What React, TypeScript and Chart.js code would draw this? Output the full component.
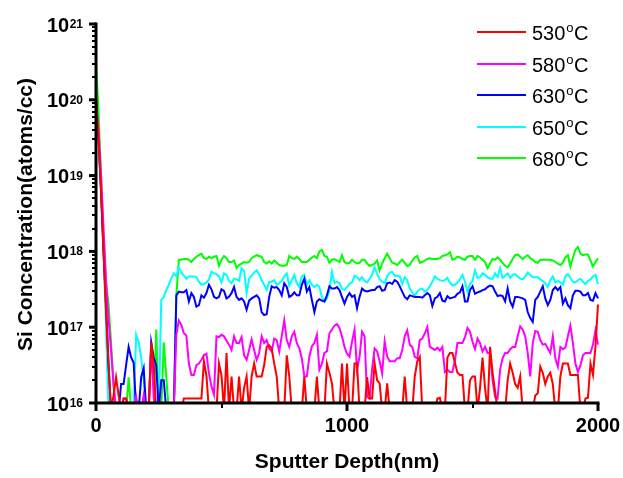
import React, { useEffect, useRef } from "react";
import { Chart, registerables } from "chart.js";

Chart.register(...registerables);

// Sputter depth (nm) of each SIMS sample point
const depthNm = [
  0, 10, 20, 30, 40, 50, 60, 70, 80, 90,
  100, 110, 120, 130, 140, 150, 160, 170, 180, 190,
  200, 210, 220, 230, 240, 250, 260, 270, 280, 290,
  300, 310, 320, 330, 340, 350, 360, 370, 380, 390,
  400, 410, 420, 430, 440, 450, 460, 470, 480, 490,
  500, 510, 520, 530, 540, 550, 560, 570, 580, 590,
  600, 610, 620, 630, 640, 650, 660, 670, 680, 690,
  700, 710, 720, 730, 740, 750, 760, 770, 780, 790,
  800, 810, 820, 830, 840, 850, 860, 870, 880, 890,
  900, 910, 920, 930, 940, 950, 960, 970, 980, 990,
  1000, 1010, 1020, 1030, 1040, 1050, 1060, 1070, 1080, 1090,
  1100, 1110, 1120, 1130, 1140, 1150, 1160, 1170, 1180, 1190,
  1200, 1210, 1220, 1230, 1240, 1250, 1260, 1270, 1280, 1290,
  1300, 1310, 1320, 1330, 1340, 1350, 1360, 1370, 1380, 1390,
  1400, 1410, 1420, 1430, 1440, 1450, 1460, 1470, 1480, 1490,
  1500, 1510, 1520, 1530, 1540, 1550, 1560, 1570, 1580, 1590,
  1600, 1610, 1620, 1630, 1640, 1650, 1660, 1670, 1680, 1690,
  1700, 1710, 1720, 1730, 1740, 1750, 1760, 1770, 1780, 1790,
  1800, 1810, 1820, 1830, 1840, 1850, 1860, 1870, 1880, 1890,
  1900, 1910, 1920, 1930, 1940, 1950, 1960, 1970, 1980, 1990,
  2000,
];

// Si concentration, stored as log10(atoms/cc)
const log10Si530 = [
  20.0, 19.5, 18.8, 18.0, 17.2, 16.5, 15.9, 16.1, 16.34, 16.1,
  15.9, 16.06, 16.06, 15.9, 15.9, 15.9, 15.9, 15.9, 15.9, 15.9,
  15.9, 15.9, 16.8, 16.5, 15.9, 15.9, 15.9, 15.9, 15.9, 15.9,
  15.9, 15.9, 15.9, 15.9, 15.9, 16.06, 16.06, 16.06, 16.06, 16.06,
  16.06, 16.06, 16.06, 16.55, 16.36, 15.9, 15.9, 15.9, 15.9, 16.52,
  16.36, 15.9, 16.66, 15.9, 16.35, 15.9, 15.9, 16.35, 15.9, 16.2,
  16.35, 15.9, 16.35, 16.52, 16.35, 16.35, 16.35, 16.5, 16.74, 16.76,
  16.72, 16.52, 16.35, 15.9, 15.9, 15.9, 16.63, 16.35, 15.9, 15.9,
  15.9, 15.9, 15.9, 16.35, 15.9, 15.9, 15.9, 15.9, 16.35, 15.9,
  15.9, 15.9, 16.52, 16.4, 16.26, 15.9, 15.9, 15.9, 16.52, 15.9,
  16.52, 15.9, 15.9, 16.52, 16.52, 15.9, 15.9, 15.9, 16.34, 16.06,
  16.06, 16.52, 16.3, 16.26, 15.9, 15.9, 16.26, 15.9, 15.9, 15.9,
  15.9, 15.9, 15.9, 16.35, 15.9, 15.9, 15.9, 16.35, 16.55, 16.61,
  15.9, 15.9, 15.9, 15.9, 15.9, 15.9, 16.06, 16.07, 15.9, 15.9,
  16.6, 16.66, 16.66, 16.53, 16.4, 16.37, 16.37, 15.9, 15.9, 16.3,
  16.35, 16.35, 15.9, 16.2, 16.6, 16.2, 15.9, 16.74, 16.4, 16.15,
  15.9, 15.9, 15.9, 15.9, 16.3, 16.52, 16.4, 16.25, 16.2, 16.35,
  15.9, 15.9, 15.9, 15.9, 15.9, 16.1, 16.13, 16.48, 16.4, 16.25,
  16.35, 16.4, 16.25, 15.9, 15.9, 16.35, 16.52, 16.52, 16.52, 16.37,
  16.37, 16.37, 16.37, 15.9, 15.9, 16.06, 16.07, 16.52, 16.37, 16.75,
  17.3,
];

const log10Si580 = [
  20.0, 19.6, 19.0, 18.3, 17.6, 17.1, 16.7, 16.25, 15.9, 15.9,
  15.9, 16.06, 16.06, 15.9, 15.9, 15.9, 16.08, 15.9, 15.9, 16.1,
  15.9, 15.9, 16.75, 16.06, 15.9, 15.9, 15.9, 15.9, 15.9, 15.9,
  15.9, 15.9, 16.9, 17.09, 17.03, 16.92, 16.89, 16.52, 16.37, 16.37,
  16.5, 16.52, 16.57, 16.63, 16.65, 16.39, 16.22, 16.11, 16.88, 16.87,
  16.9, 16.88, 16.82, 16.77, 16.7, 16.88, 16.79, 16.79, 16.87, 16.63,
  16.57, 16.7, 16.84, 16.7, 16.57, 16.66, 16.88, 16.79, 16.83, 16.72,
  16.68, 16.85, 16.83, 16.68, 16.88, 17.09, 16.83, 16.74, 16.88, 16.94,
  16.79, 16.72, 16.59, 16.35, 16.35, 16.61, 16.75, 16.79, 16.9, 16.44,
  16.52, 16.66, 16.68, 16.92, 16.97, 17.02, 17.04, 16.99, 16.88, 16.74,
  16.65, 16.61, 16.81, 16.97, 16.44, 16.61, 16.94, 16.88, 16.08, 16.06,
  16.45, 16.72, 16.68, 16.55, 16.39, 16.81, 16.61, 16.55, 16.55, 16.55,
  16.59, 16.59, 16.7, 16.88, 16.96, 16.77, 16.74, 16.61, 16.59, 16.83,
  16.85, 16.92, 17.0, 16.74, 16.72, 16.7, 16.73, 16.69, 16.74, 16.41,
  16.44, 16.41, 16.41, 16.56, 16.79, 16.79, 16.79, 16.87, 16.99, 16.94,
  16.81, 16.71, 16.85, 16.79, 16.68, 16.74, 16.66, 16.66, 16.3, 16.08,
  16.06, 16.44, 16.59, 16.66, 16.66, 16.71, 16.74, 16.74, 16.88, 17.01,
  16.97, 16.88, 16.66, 16.35, 16.79, 16.95, 16.94, 16.83, 16.77, 16.78,
  16.72, 16.66, 16.88, 16.59, 16.48, 16.74, 16.71, 16.73, 16.88, 17.02,
  16.79, 16.52, 16.41, 16.5, 16.63, 16.66, 16.66, 16.66, 16.77, 16.96,
  16.77,
];

const log10Si630 = [
  20.0, 19.5, 18.8, 18.0, 17.3, 16.5, 15.9, 15.9, 15.9, 15.9,
  16.25, 16.25, 16.5, 16.74, 16.6, 16.53, 15.9, 15.9, 16.34, 16.46,
  15.9, 15.9, 16.8, 16.6, 16.5, 15.9, 16.3, 16.3, 15.9, 15.9,
  15.9, 15.9, 17.42, 17.47, 17.46, 17.46, 17.49, 17.34, 17.45, 17.4,
  17.27, 17.29, 17.42, 17.39, 17.45, 17.56, 17.5, 17.4, 17.38, 17.4,
  17.5, 17.48, 17.38, 17.4, 17.45, 17.53, 17.4, 17.36, 17.38, 17.34,
  17.23, 17.35, 17.38, 17.4, 17.42, 17.38, 17.2, 17.16, 17.17, 17.4,
  17.54, 17.52, 17.53, 17.49, 17.42, 17.58, 17.53, 17.4, 17.42, 17.46,
  17.42, 17.42, 17.56, 17.64, 17.47, 17.53, 17.36, 17.2, 17.34, 17.37,
  17.35, 17.34, 17.42, 17.54, 17.51, 17.51, 17.53, 17.49, 17.4, 17.31,
  17.4, 17.45, 17.4, 17.42, 17.25, 17.4, 17.51, 17.48, 17.47, 17.48,
  17.49, 17.49, 17.53, 17.54, 17.48, 17.49, 17.58, 17.59, 17.57, 17.62,
  17.6, 17.54, 17.47, 17.4, 17.37, 17.42, 17.41, 17.4, 17.4, 17.4,
  17.39, 17.42, 17.45, 17.42, 17.28, 17.38, 17.4, 17.45, 17.35, 17.34,
  17.41, 17.38, 17.39, 17.4, 17.44, 17.46, 17.54, 17.34, 17.34, 17.49,
  17.54, 17.44, 17.46, 17.47, 17.49, 17.5, 17.53, 17.55, 17.54, 17.47,
  17.41, 17.42, 17.41, 17.34, 17.51, 17.34, 17.27, 17.4, 17.4, 17.39,
  17.38, 17.36, 17.2, 17.12, 17.07, 17.36, 17.4, 17.47, 17.54, 17.38,
  17.29, 17.36, 17.49, 17.53, 17.49, 17.53, 17.31, 17.38, 17.29, 17.25,
  17.42, 17.48, 17.48, 17.47, 17.42, 17.42, 17.45, 17.36, 17.35, 17.45,
  17.38,
];

const log10Si650 = [
  20.0, 19.5, 18.8, 18.0, 17.0, 15.9, 15.9, 15.9, 15.9, 15.9,
  15.9, 15.9, 15.9, 15.9, 15.9, 15.9, 16.9, 16.8, 16.6, 16.3,
  15.9, 15.9, 15.9, 15.9, 15.9, 15.9, 17.36, 17.4, 17.49, 17.56,
  17.64, 17.71, 17.67, 17.79, 17.72, 17.68, 17.64, 17.67, 17.67, 17.67,
  17.66, 17.6, 17.56, 17.57, 17.59, 17.63, 17.73, 17.71, 17.7, 17.67,
  17.59, 17.71, 17.69, 17.61, 17.58, 17.64, 17.63, 17.61, 17.78, 17.74,
  17.45, 17.64, 17.68, 17.72, 17.75, 17.7, 17.62, 17.56, 17.49, 17.6,
  17.6, 17.62, 17.56, 17.58, 17.61, 17.67, 17.71, 17.55, 17.62, 17.69,
  17.58, 17.53, 17.67, 17.69, 17.56, 17.62, 17.56, 17.53, 17.56, 17.53,
  17.4, 17.34, 17.38, 17.49, 17.73, 17.58, 17.6, 17.58, 17.51, 17.49,
  17.53, 17.57, 17.59, 17.68, 17.66, 17.62, 17.66, 17.61, 17.59, 17.64,
  17.69, 17.79, 17.7, 17.63, 17.6, 17.58, 17.67, 17.72, 17.73, 17.68,
  17.68, 17.67, 17.57, 17.66, 17.62, 17.51, 17.46, 17.42, 17.47, 17.5,
  17.51, 17.47, 17.49, 17.54, 17.6, 17.67, 17.64, 17.62, 17.61, 17.62,
  17.65, 17.59, 17.55, 17.56, 17.59, 17.63, 17.69, 17.6, 17.47, 17.57,
  17.61, 17.75, 17.65, 17.66, 17.71, 17.69, 17.66, 17.64, 17.64, 17.71,
  17.66, 17.78, 17.65, 17.68, 17.71, 17.65, 17.69, 17.7, 17.67, 17.64,
  17.63, 17.67, 17.72, 17.69, 17.66, 17.66, 17.66, 17.63, 17.61, 17.58,
  17.53, 17.62, 17.67, 17.59, 17.61, 17.59, 17.56, 17.67, 17.7, 17.65,
  17.6, 17.59, 17.62, 17.64, 17.6, 17.57, 17.61, 17.63, 17.67, 17.69,
  17.57,
];

const log10Si680 = [
  20.5, 19.85, 19.0, 18.2, 17.6, 17.3, 16.8, 16.2, 15.9, 15.9,
  15.9, 15.9, 15.9, 16.34, 15.9, 15.9, 15.9, 15.9, 15.9, 15.9,
  15.9, 15.9, 15.9, 15.9, 16.97, 15.9, 15.9, 16.8, 16.34, 15.9,
  15.9, 15.9, 17.42, 17.89, 17.89, 17.9, 17.9, 17.89, 17.86, 17.9,
  17.93, 17.95, 17.97, 17.91, 17.9, 17.93, 17.91, 17.93, 17.94, 17.81,
  17.89, 17.94, 17.91, 17.86, 17.86, 17.88, 17.78, 17.82, 17.84, 17.86,
  17.85, 17.86, 17.91, 17.93, 17.95, 17.94, 17.93, 17.86, 17.84, 17.87,
  17.84, 17.88, 17.85, 17.82, 17.81, 17.81, 17.82, 17.94, 17.91, 17.9,
  17.93, 17.9, 17.86, 17.86, 17.86, 17.89, 17.92, 17.94, 17.91, 18.0,
  18.02, 17.94, 17.93, 17.85, 17.89, 17.9, 17.88, 17.86, 17.95, 17.86,
  17.84, 17.85, 17.89, 17.86, 17.84, 17.85, 17.89, 17.89, 17.84, 17.81,
  17.82, 17.84, 17.88, 17.75, 17.84, 17.91, 17.97, 17.91, 17.85, 17.84,
  17.82, 17.86, 17.89, 17.85, 17.81, 17.82, 17.88, 17.92, 17.94, 17.85,
  17.86, 17.88, 17.9, 17.91, 17.9, 17.9, 17.9, 17.91, 17.94, 17.95,
  17.96, 17.99, 17.89, 17.9, 17.93, 17.92, 17.9, 17.89, 17.93, 17.94,
  17.94, 17.89, 17.94, 17.92, 17.89, 17.86, 17.78, 17.84, 17.9, 17.89,
  17.92, 17.89, 17.85, 17.81, 17.79, 17.84, 17.9, 17.95, 17.96, 17.93,
  17.9, 17.93, 17.95, 17.91, 17.89, 17.86, 17.85, 17.89, 17.89, 17.89,
  17.89, 17.89, 17.88, 17.86, 17.84, 17.82, 17.85, 17.92, 17.95, 17.8,
  17.92, 18.02, 18.06, 17.97, 17.95, 17.96, 17.96, 17.88, 17.8, 17.86,
  17.91,
];

const seriesTemps = ["530", "580", "630", "650", "680"];
const seriesColors = ["#FF0000", "#FF00FF", "#0000FF", "#00FFFF", "#00FF00"];
const seriesLogValues = [log10Si530, log10Si580, log10Si630, log10Si650, log10Si680];

const xMajorTicks = [0, 1000, 2000];
const xMinorTicks = [500, 1500];
const yDecadeExponents = [16, 17, 18, 19, 20, 21];
const xTitle = "Sputter Depth(nm)";
const yTitle = "Si Concentration(atoms/cc)";

const FONT = '"Liberation Sans", Arial, Helvetica, sans-serif';

const originAxesPlugin = {
  id: "originAxes",
  afterDatasetsDraw(chart: any) {
    const { ctx, chartArea, scales } = chart;
    const xs = scales.x;
    const ys = scales.y;
    const L = chartArea.left;
    const B = chartArea.bottom;
    ctx.save();
    ctx.strokeStyle = "#000";
    ctx.fillStyle = "#000";
    ctx.lineCap = "butt";

    // y ticks
    for (const e of yDecadeExponents) {
      const y = ys.getPixelForValue(Math.pow(10, e));
      ctx.lineWidth = 3;
      ctx.beginPath();
      ctx.moveTo(L - 7, y);
      ctx.lineTo(L, y);
      ctx.stroke();
      if (e < 21) {
        ctx.lineWidth = 2;
        for (let m = 2; m <= 9; m++) {
          const ym = Math.round(ys.getPixelForValue(m * Math.pow(10, e)));
          ctx.beginPath();
          ctx.moveTo(L - 4, ym);
          ctx.lineTo(L, ym);
          ctx.stroke();
        }
      }
      // label 10^e
      ctx.textBaseline = "alphabetic";
      ctx.textAlign = "right";
      ctx.font = `bold 12px ${FONT}`;
      const sup = String(e);
      const supW = ctx.measureText(sup).width;
      const rightX = 83;
      ctx.fillText(sup, rightX, y + 4);
      ctx.font = `bold 20px ${FONT}`;
      ctx.fillText("10", rightX - supW - 0.5, y + 7.5);
    }

    // x ticks
    ctx.lineWidth = 3;
    for (const t of xMajorTicks) {
      const x = xs.getPixelForValue(t);
      ctx.beginPath();
      ctx.moveTo(x, B);
      ctx.lineTo(x, B + 8);
      ctx.stroke();
      ctx.font = `bold 20px ${FONT}`;
      ctx.textAlign = "center";
      ctx.textBaseline = "alphabetic";
      ctx.fillText(String(t), x, B + 29);
    }
    ctx.lineWidth = 2;
    for (const t of xMinorTicks) {
      const x = Math.round(xs.getPixelForValue(t));
      ctx.beginPath();
      ctx.moveTo(x, B);
      ctx.lineTo(x, B + 5);
      ctx.stroke();
    }

    // axis lines
    ctx.lineWidth = 3;
    ctx.beginPath();
    ctx.moveTo(L, chartArea.top - 1.5);
    ctx.lineTo(L, B);
    ctx.lineTo(chartArea.right + 1.5, B);
    ctx.stroke();

    // titles
    ctx.font = `bold 21px ${FONT}`;
    ctx.textAlign = "center";
    ctx.textBaseline = "alphabetic";
    ctx.fillText(xTitle, (chartArea.left + chartArea.right) / 2, 468);
    ctx.save();
    ctx.translate(31.5, (chartArea.top + chartArea.bottom) / 2 + 1);
    ctx.rotate(-Math.PI / 2);
    ctx.fillText(yTitle, 0, 0);
    ctx.restore();

    // legend
    const legendX = 477;
    const legendY0 = 32;
    const legendStep = 31.6;
    seriesTemps.forEach((t, i) => {
      const y = Math.round(legendY0 + i * legendStep);
      ctx.strokeStyle = seriesColors[i];
      ctx.lineWidth = 2;
      ctx.beginPath();
      ctx.moveTo(legendX, y);
      ctx.lineTo(legendX + 49, y);
      ctx.stroke();
      ctx.fillStyle = "#000";
      ctx.textAlign = "left";
      ctx.textBaseline = "alphabetic";
      ctx.font = `20px ${FONT}`;
      let x = 532;
      ctx.fillText(t, x, y + 7.5);
      x += ctx.measureText(t).width + 1;
      ctx.font = `13px ${FONT}`;
      ctx.fillText("o", x, y);
      x += ctx.measureText("o").width + 0.5;
      ctx.font = `20px ${FONT}`;
      ctx.fillText("C", x, y + 7.5);
    });

    ctx.restore();
  },
};

export default function App() {
  const canvasRef = useRef<HTMLCanvasElement | null>(null);

  useEffect(() => {
    const canvas = canvasRef.current;
    if (!canvas) return;
    const datasets = seriesLogValues.map((vals, si) => ({
      label: seriesTemps[si] + "°C",
      data: depthNm.map((d, i) => ({ x: d, y: Math.pow(10, vals[i]) })),
      borderColor: seriesColors[si],
      backgroundColor: seriesColors[si],
      borderWidth: 2,
      pointRadius: 0,
      tension: 0,
      fill: false,
      clip: { left: 2, top: 2, right: 3, bottom: 1 },
    }));
    const chart = new Chart(canvas, {
      type: "line",
      data: { datasets },
      options: {
        responsive: false,
        animation: false,
        devicePixelRatio: 1,
        events: [],
        layout: { padding: { left: 96, right: 25, top: 24, bottom: 75 } },
        scales: {
          x: { type: "linear", min: 0, max: 2000, display: false },
          y: { type: "logarithmic", min: 1e16, max: 1e21, display: false },
        },
        plugins: {
          legend: { display: false },
          tooltip: { enabled: false },
        },
      },
      plugins: [originAxesPlugin],
    } as any);
    return () => chart.destroy();
  }, []);

  return (
    <canvas
      ref={canvasRef}
      width={623}
      height={478}
      style={{ position: "absolute", left: 0, top: 0, background: "#fff" }}
    />
  );
}
